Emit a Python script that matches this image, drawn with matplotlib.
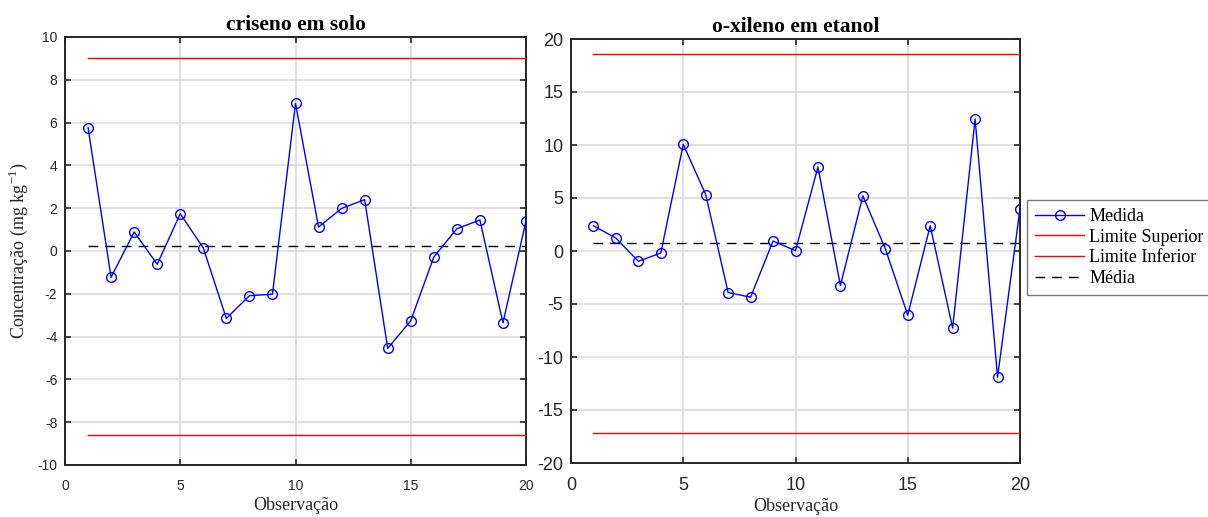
import matplotlib.pyplot as plt

plt.rcParams["font.family"] = ["Liberation Serif", "DejaVu Serif"]
plt.rcParams["mathtext.fontset"] = "custom"
plt.rcParams["mathtext.rm"] = "Liberation Serif"
plt.rcParams["axes.unicode_minus"] = False

obs = list(range(1, 21))

# criseno em solo
criseno = [5.76, -1.23, 0.89, -0.62, 1.74, 0.14, -3.15, -2.09, -2.02, 6.90,
           1.12, 1.99, 2.40, -4.55, -3.26, -0.28, 1.04, 1.45, -3.36, 1.40]
criseno_sup = 9.02
criseno_inf = -8.60
criseno_media = 0.22

# o-xileno em etanol
xileno = [2.38, 1.22, -0.97, -0.19, 10.06, 5.33, -3.92, -4.36, 0.94, 0.03,
          7.93, -3.26, 5.20, 0.22, -6.05, 2.38, -7.27, 12.45, -11.91, 3.98]
xileno_sup = 18.56
xileno_inf = -17.15
xileno_media = 0.75

fig = plt.figure(figsize=(12.08, 5.17), dpi=100)
ax1 = fig.add_axes([65 / 1208, 1 - 465 / 517, 461 / 1208, 428 / 517])
ax2 = fig.add_axes([571 / 1208, 1 - 463 / 517, 449 / 1208, 424 / 517])

EDGE = "#262626"


def control_panel(ax, y, sup, inf, media, title, ylim, yticks, tick_fs):
    ax.plot(obs, y, color="#0000ff", lw=1.0, marker="o", ms=7,
            mfc="none", mec="#0000ff", mew=1.0, label="Medida", zorder=4)
    ax.plot([obs[0], obs[-1]], [sup, sup], color="#ff0000", lw=1.0,
            label="Limite Superior", zorder=3)
    ax.plot([obs[0], obs[-1]], [inf, inf], color="#ff0000", lw=1.0,
            label="Limite Inferior", zorder=3)
    ax.plot([obs[0], obs[-1]], [media, media], color="black", lw=1.0,
            ls=(0, (7, 5)), label="Média", zorder=3)
    ax.set_xlim(0, 20)
    ax.set_ylim(*ylim)
    ax.set_xticks([0, 5, 10, 15, 20])
    ax.set_yticks(yticks)
    ax.grid(True, color="#dcdcdc", lw=1.2, zorder=0)
    ax.set_axisbelow(True)
    for s in ax.spines.values():
        s.set_color(EDGE)
        s.set_linewidth(1.4)
    ax.tick_params(direction="in", top=True, right=True, length=4,
                   width=1.2, color=EDGE, labelcolor=EDGE,
                   labelsize=tick_fs)
    ax.tick_params(axis="x", pad=10)
    ax.tick_params(axis="y", pad=5.5)
    for lbl in ax.get_xticklabels() + ax.get_yticklabels():
        lbl.set_family("Liberation Sans")
    ax.set_title(title, fontsize=15.5, fontweight="bold", pad=5)
    ax.set_xlabel("Observação", fontsize=13, color=EDGE, labelpad=3)


control_panel(ax1, criseno, criseno_sup, criseno_inf, criseno_media,
              "criseno em solo", (-10, 10), range(-10, 11, 2), 10)
control_panel(ax2, xileno, xileno_sup, xileno_inf, xileno_media,
              "o-xileno em etanol", (-20, 20), range(-20, 21, 5), 13)

ax1.set_ylabel("Concentração (mg kg$^{-1}$)", fontsize=13, color=EDGE,
               labelpad=5)

leg = ax2.legend(loc="upper left", bbox_to_anchor=(1027 / 1208, 1 - 200 / 517),
                 bbox_transform=fig.transFigure, fontsize=13, frameon=True,
                 fancybox=False, handlelength=2.7, handletextpad=0.3,
                 labelspacing=0.2, borderpad=0.45, borderaxespad=0,
                 numpoints=1)
leg.get_frame().set_edgecolor("#555555")
leg.get_frame().set_linewidth(1.0)

fig.savefig("out.png", dpi=100)
